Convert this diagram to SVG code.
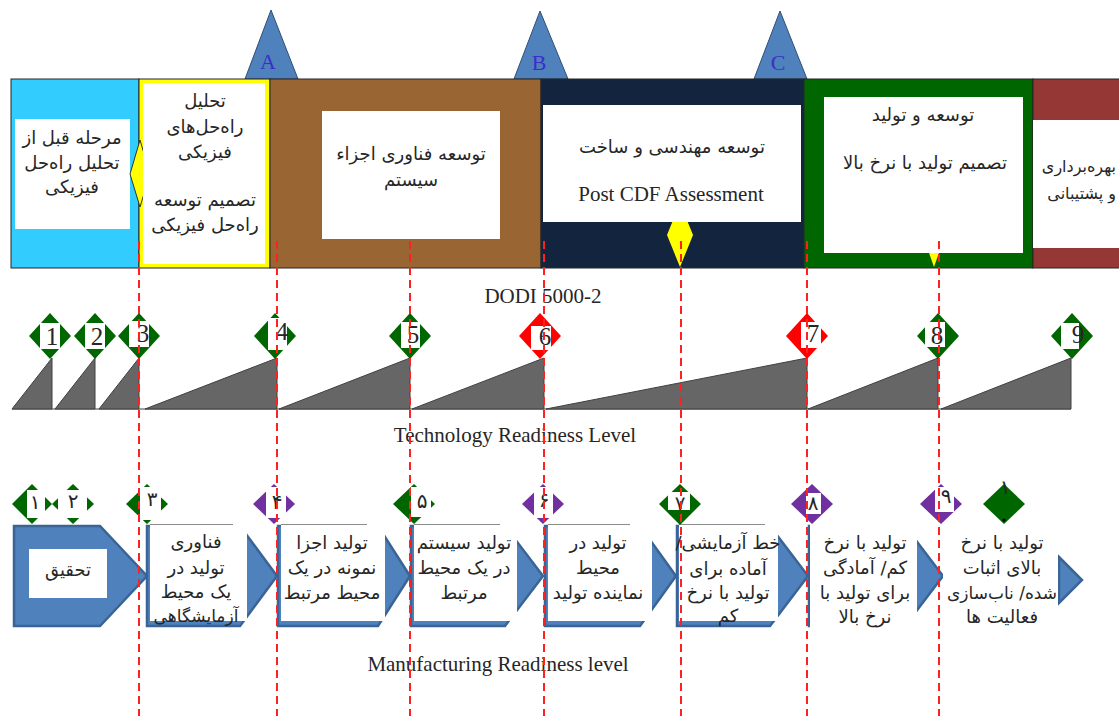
<svg xmlns="http://www.w3.org/2000/svg" width="1119" height="716" viewBox="0 0 1119 716">
<style>
.fa{font-family:"DejaVu Sans",sans-serif;font-size:18px;fill:#262626;direction:rtl;text-anchor:middle}
.en{font-family:"Liberation Serif",serif;font-size:21px;fill:#262626;text-anchor:middle}
.lbl{font-family:"Liberation Serif",serif;font-size:22px;fill:#3B2FC8;text-anchor:middle}
.tn{font-family:"Liberation Serif",serif;font-size:25px;fill:#262626;text-anchor:middle}
.mn{font-family:"DejaVu Sans",sans-serif;font-size:20px;fill:#262626;text-anchor:middle}
.tri{fill:#4F81BD;stroke:#2F4F75;stroke-width:1}
.ramp{fill:#666666;stroke:#404040;stroke-width:1}
.g{fill:#006600}.r{fill:#FF0000}.p{fill:#7030A0}
.wb{fill:#FFFFFF}
.arr{fill:#4F81BD;stroke:#3A6496;stroke-width:2.5;stroke-linejoin:miter}
.top{stroke:#8C8C8C;stroke-width:1}
.dash{stroke:#FF2020;stroke-width:2;stroke-dasharray:8 5;fill:none}
</style>

<g id="milestones">
  <polygon class="tri" points="271,10 245,79 298,79"/>
  <text class="lbl" x="268" y="69">A</text>
  <polygon class="tri" points="540,11 514,79 568,79"/>
  <text class="lbl" x="539" y="70">B</text>
  <polygon class="tri" points="780,11 754,79 807,79"/>
  <text class="lbl" x="778" y="70">C</text>
</g>

<g id="phase-msa">
  <rect x="11" y="79" width="128" height="189" fill="#33CCFF" stroke="#262626" stroke-width="1"/>
  <rect class="wb" x="15" y="119" width="115" height="110"/>
  <text class="fa" x="72" y="144">مرحله قبل از</text>
  <text class="fa" x="72" y="169">تحلیل راه‌حل</text>
  <text class="fa" x="72" y="193">فیزیکی</text>
</g>

<g id="phase-analysis">
  <rect x="139" y="79" width="131" height="189" fill="#FFFF00" stroke="#262626" stroke-width="1"/>
  <polygon points="140,140 150,174 140,207 130,174" fill="#FFFF00" stroke="#333" stroke-width="1"/>
  <rect class="wb" x="143" y="83" width="122" height="181"/>
  <text class="fa" x="205" y="107">تحلیل</text>
  <text class="fa" x="205" y="133">راه‌حل‌های</text>
  <text class="fa" x="205" y="158">فیزیکی</text>
  <text class="fa" x="205" y="206">تصمیم توسعه</text>
  <text class="fa" x="205" y="231">راه‌حل فیزیکی</text>
</g>

<g id="phase-tech">
  <rect x="270" y="79" width="271" height="189" fill="#996633" stroke="#262626" stroke-width="1"/>
  <rect class="wb" x="322" y="111" width="178" height="128"/>
  <text class="fa" x="411" y="160">توسعه فناوری اجزاء</text>
  <text class="fa" x="411" y="186">سیستم</text>
</g>

<g id="phase-emd">
  <rect x="541" y="79" width="263" height="189" fill="#13243F" stroke="#262626" stroke-width="1"/>
  <polygon points="680,203 693,235 680,267 667,235" fill="#FFFF00"/>
  <rect class="wb" x="543" y="105" width="258" height="117"/>
  <text class="fa" x="672" y="153">توسعه مهندسی و ساخت</text>
  <text class="en" x="671" y="201">Post CDF Assessment</text>
</g>

<g id="phase-production">
  <rect x="804" y="79" width="229" height="189" fill="#006600" stroke="#262626" stroke-width="1"/>
  <polygon points="928,250 940,250 934,267" fill="#FFFF00"/>
  <rect class="wb" x="824" y="97" width="199" height="156"/>
  <text class="fa" x="923" y="121">توسعه و تولید</text>
  <text class="fa" x="925" y="169">تصمیم تولید با نرخ بالا</text>
</g>

<g id="phase-support">
  <rect x="1033" y="79" width="90" height="189" fill="#953735" stroke="#262626" stroke-width="1"/>
  <rect class="wb" x="1033" y="120" width="90" height="128"/>
  <text class="fa" x="1116" y="172" style="direction:ltr;text-anchor:end;font-size:16px">بهره‌برداری</text>
  <text class="fa" x="1116" y="199" style="direction:ltr;text-anchor:end;font-size:16px">و پشتیبانی</text>
</g>

<g id="dodi-label">
  <text class="en" x="543" y="303">DODI 5000-2</text>
</g>

<g id="trl">
  <line x1="12" y1="409" x2="1071" y2="409" stroke="#404040" stroke-width="1"/>
  <polygon class="ramp" points="12,409 52,409 52,358"/>
  <polygon class="ramp" points="55,409 95,409 95,358"/>
  <polygon class="ramp" points="99,409 139,409 139,358"/>
  <polygon class="ramp" points="145,409 277,409 277,358"/>
  <polygon class="ramp" points="279,409 410,409 410,358"/>
  <polygon class="ramp" points="412,409 544,409 544,358"/>
  <polygon class="ramp" points="546,409 807,409 807,358"/>
  <polygon class="ramp" points="808,409 938,409 938,358"/>
  <polygon class="ramp" points="941,409 1071,409 1071,358"/>
  <g id="trl-1"><polygon class="g" points="50,313 71,336 50,359 29,336"/><rect class="wb" x="40" y="323" width="20" height="26"/><text class="tn" x="52" y="345">1</text></g>
  <g id="trl-2"><polygon class="g" points="95,313 116,336 95,359 74,336"/><rect class="wb" x="85" y="323" width="20" height="26"/><text class="tn" x="97" y="345">2</text></g>
  <g id="trl-3"><polygon class="g" points="139,313 160,336 139,359 118,336"/><rect class="wb" x="129" y="321" width="20" height="26"/><text class="tn" x="143" y="342">3</text></g>
  <g id="trl-4"><polygon class="g" points="275,313 296,336 275,359 254,336"/><rect class="wb" x="268" y="318" width="19" height="32"/><text class="tn" x="282" y="340">4</text></g>
  <g id="trl-5"><polygon class="g" points="410,313 431,336 410,359 389,336"/><rect class="wb" x="401" y="322" width="19" height="26"/><text class="tn" x="413" y="343">5</text></g>
  <g id="trl-6"><polygon class="r" points="540,313 561,336 540,359 519,336"/><rect class="wb" x="531" y="326" width="20" height="24"/><text class="tn" x="545" y="345">6</text></g>
  <g id="trl-7"><polygon class="r" points="807,313 828,336 807,359 786,336"/><rect class="wb" x="801" y="322" width="20" height="26"/><text class="tn" x="813" y="342">7</text></g>
  <g id="trl-8"><polygon class="g" points="938,313 959,336 938,359 917,336"/><rect class="wb" x="925" y="322" width="20" height="25"/><text class="tn" x="937" y="344">8</text></g>
  <g id="trl-9"><polygon class="g" points="1072,313 1093,336 1072,359 1051,336"/><rect class="wb" x="1061" y="323" width="18" height="26"/><text class="tn" x="1078" y="343">9</text></g>
  <text class="en" x="515" y="442">Technology Readiness Level</text>
</g>

<g id="mrl">
  <g id="mrl-stage-1">
    <polygon class="arr" points="14,526 100,526 147,576 100,626 14,626"/>
    <rect class="wb" x="29" y="549" width="78" height="49"/>
    <text class="fa" x="68" y="576">تحقیق</text>
  </g>
  <g id="mrl-stage-2">
    <polygon class="arr" points="147,526 240,526 277,576 240,626 147,626"/>
    <rect class="wb" x="150" y="524" width="97" height="97"/>
    <line class="top" x1="150" y1="524.5" x2="233" y2="524.5"/>
    <text class="fa" x="196" y="548">فناوری</text>
    <text class="fa" x="196" y="574">تولید در</text>
    <text class="fa" x="196" y="598">یک محیط</text>
    <text class="fa" x="196" y="622" style="font-size:17px">آزمایشگاهی</text>
  </g>
  <g id="mrl-stage-3">
    <polygon class="arr" points="278,526 378,526 410,576 378,626 278,626"/>
    <rect class="wb" x="281" y="524" width="104" height="97"/>
    <line class="top" x1="281" y1="524.5" x2="367" y2="524.5"/>
    <text class="fa" x="332" y="549">تولید اجزا</text>
    <text class="fa" x="332" y="574">نمونه در یک</text>
    <text class="fa" x="332" y="599">محیط مرتبط</text>
  </g>
  <g id="mrl-stage-4">
    <polygon class="arr" points="411,526 505,526 543,576 505,626 411,626"/>
    <rect class="wb" x="414" y="524" width="103" height="97"/>
    <line class="top" x1="414" y1="524.5" x2="500" y2="524.5"/>
    <text class="fa" x="464" y="549">تولید سیستم</text>
    <text class="fa" x="464" y="574">در یک محیط</text>
    <text class="fa" x="464" y="599">مرتبط</text>
  </g>
  <g id="mrl-stage-5">
    <polygon class="arr" points="545,526 640,526 676,576 640,626 545,626"/>
    <rect class="wb" x="548" y="524" width="104" height="97"/>
    <line class="top" x1="548" y1="524.5" x2="630" y2="524.5"/>
    <text class="fa" x="598" y="549">تولید در</text>
    <text class="fa" x="598" y="574">محیط</text>
    <text class="fa" x="598" y="599">نماینده تولید</text>
  </g>
  <g id="mrl-stage-6">
    <polygon class="arr" points="677,526 770,526 808,576 770,626 677,626"/>
    <rect class="wb" x="679" y="524" width="99" height="97"/>
    <line class="top" x1="679" y1="524.5" x2="765" y2="524.5"/>
    <text class="fa" x="728" y="549">خط آزمایشی/</text>
    <text class="fa" x="728" y="575">آماده برای</text>
    <text class="fa" x="728" y="599">تولید با نرخ</text>
    <text class="fa" x="728" y="622">کم</text>
  </g>
  <g id="mrl-stage-7">
    <polygon class="arr" points="809,526 905,526 943,576 905,626 809,626"/>
    <rect class="wb" x="810" y="524" width="107" height="116"/>
    <text class="fa" x="865" y="549">تولید با نرخ</text>
    <text class="fa" x="865" y="574">کم/ آمادگی</text>
    <text class="fa" x="865" y="599">برای تولید با</text>
    <text class="fa" x="865" y="623">نرخ بالا</text>
  </g>
  <g id="mrl-stage-8">
    <polygon class="arr" points="1059,557 1082,580 1059,603"/>
    <rect class="wb" x="943" y="524" width="115" height="116"/>
    <text class="fa" x="1002" y="549">تولید با نرخ</text>
    <text class="fa" x="1002" y="574">بالای اثبات</text>
    <text class="fa" x="1002" y="599" style="font-size:17px">شده/ ناب‌سازی</text>
    <text class="fa" x="1002" y="623">فعالیت ها</text>
  </g>

  <g id="mrl-1"><polygon class="g" points="32,484 52,504 32,524 12,504"/><rect class="wb" x="27" y="490" width="18" height="28"/><text class="mn" x="35" y="509">۱</text></g>
  <g id="mrl-2"><polygon class="g" points="73,484 94,504 73,524 52,504"/><rect class="wb" x="58" y="490" width="29" height="28"/><text class="mn" x="73" y="508">۲</text></g>
  <g id="mrl-3"><polygon class="g" points="147,484 168,504 147,524 126,504"/><rect class="wb" x="140" y="487" width="21" height="33"/><text class="mn" x="152" y="506">۳</text></g>
  <g id="mrl-4"><polygon class="p" points="274,484 295,504 274,524 253,504"/><rect class="wb" x="266" y="487" width="20" height="31"/><text class="mn" x="277" y="509">۴</text></g>
  <g id="mrl-5"><polygon class="g" points="414,484 435,504 414,524 393,504"/><rect class="wb" x="411" y="487" width="20" height="30"/><text class="mn" x="422" y="508">۵</text></g>
  <g id="mrl-6"><polygon class="p" points="543,484 564,504 543,524 522,504"/><rect class="wb" x="534" y="487" width="19" height="31"/><text class="mn" x="544" y="507">۶</text></g>
  <g id="mrl-7"><polygon class="g" points="680,484 701,504 680,525 659,504"/><rect class="wb" x="668" y="492" width="22" height="18"/><text class="mn" x="680" y="510">۷</text></g>
  <g id="mrl-8"><polygon class="p" points="812,484 833,504 812,524 791,504"/><rect class="wb" x="806" y="493" width="15" height="21"/><text class="mn" x="813" y="510">۸</text></g>
  <g id="mrl-9"><polygon class="p" points="941,484 962,504 941,524 920,504"/><rect class="wb" x="935" y="487" width="19" height="25"/><text class="mn" x="946" y="503">۹</text></g>
  <g id="mrl-10"><polygon class="g" points="1004,484 1025,504 1004,524 983,504"/><circle cx="1004" cy="520" r="1.6" fill="#000"/><text class="mn" x="1005" y="494">۱</text></g>

  <text class="en" x="498" y="671">Manufacturing Readiness level</text>
</g>

<g id="connectors">
  <line class="dash" x1="139" y1="241" x2="139" y2="716"/>
  <line class="dash" x1="277" y1="241" x2="277" y2="716"/>
  <line class="dash" x1="410" y1="241" x2="410" y2="716"/>
  <line class="dash" x1="544" y1="241" x2="544" y2="716"/>
  <line class="dash" x1="681" y1="241" x2="681" y2="716"/>
  <line class="dash" x1="807" y1="241" x2="807" y2="716"/>
  <line class="dash" x1="939" y1="241" x2="939" y2="716"/>
</g>
</svg>
